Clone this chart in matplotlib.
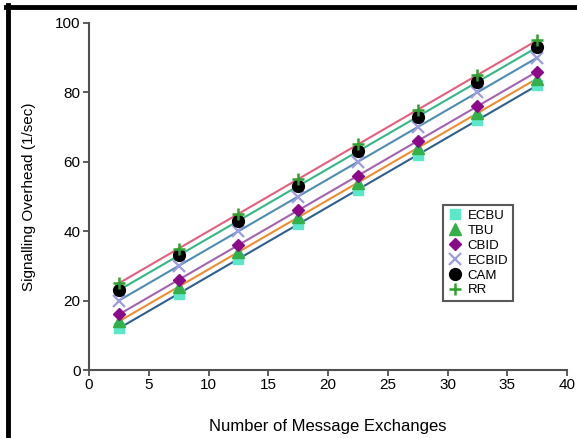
import numpy as np
import matplotlib
matplotlib.use("Agg")
import matplotlib.pyplot as plt
from matplotlib.lines import Line2D

plt.rcParams['font.family'] = ['Liberation Sans', 'DejaVu Sans']

x = [2.5, 7.5, 12.5, 17.5, 22.5, 27.5, 32.5, 37.5]
ecbu = [12, 22, 32, 42, 52, 62, 72, 82]
tbu = [14, 24, 34, 44, 54, 64, 74, 84]
cbid = [16, 26, 36, 46, 56, 66, 76, 86]
ecbid = [20, 30, 40, 50, 60, 70, 80, 90]
cam = [23, 33, 43, 53, 63, 73, 83, 93]
rr = [25, 35, 45, 55, 65, 75, 85, 95]

names = ["ECBU", "TBU", "CBID", "ECBID", "CAM", "RR"]
series = [ecbu, tbu, cbid, ecbid, cam, rr]
line_colors = ["#2f5f8f", "#f08c30", "#a463b0", "#4e8db3", "#34b884", "#e4607e"]
styles = [
    dict(marker="s", color="#5ce8c8", ms=7, mec="#5ce8c8"),
    dict(marker="^", color="#33b04a", ms=8, mec="#33b04a"),
    dict(marker="D", color="#8a0a8a", ms=6, mec="#8a0a8a"),
    dict(marker="x", color="#9c9ce0", ms=8, mew=1.6),
    dict(marker="o", color="#000000", ms=8.5),
    dict(marker="+", color="#2fa02f", ms=9, mew=1.8),
]

fig = plt.figure(figsize=(5.77, 4.38), dpi=100)
ax = fig.add_axes([89/577, 68/438, 478/577, 347/438])

xa = np.array(x)
for vals, lc in zip(series, line_colors):
    k, b = np.polyfit(xa, np.array(vals), 1)
    ax.plot([xa.min(), xa.max()], [k*xa.min()+b, k*xa.max()+b], color=lc, lw=1.5, zorder=2)

handles = []
for name, vals, st in zip(names, series, styles):
    h, = ax.plot(x, vals, linestyle="none", label=name, zorder=3, **st)
    handles.append(h)

ax.set_xlim(0, 40)
ax.set_ylim(0, 100)
ax.set_xticks(range(0, 41, 5))
ax.set_yticks(range(0, 101, 20))
for s in ["top", "right"]:
    ax.spines[s].set_visible(False)
for s in ["left", "bottom"]:
    ax.spines[s].set_color("#505050")
    ax.spines[s].set_linewidth(1.5)
ax.tick_params(direction="out", length=4, width=1.3, color="#505050", labelsize=11, pad=2)
ax.set_xlabel("Number of Message Exchanges", fontsize=12, labelpad=19)
ax.set_ylabel("Signalling Overhead (1/sec)", fontsize=11, labelpad=14)

leg = ax.legend(handles=handles, loc="upper left", bbox_to_anchor=(0.741, 0.475),
                fontsize=9.5, frameon=True, fancybox=False, borderpad=0.35,
                handlelength=1.1, handletextpad=0.4, labelspacing=0.2, borderaxespad=0)
leg.get_frame().set_edgecolor("#303030")
leg.get_frame().set_linewidth(1.5)

fig.add_artist(Line2D([7.5/577, 7.5/577], [0, 1 - 5/438], color="black", lw=3.5, transform=fig.transFigure))
fig.add_artist(Line2D([6/577, 1], [1 - 6.5/438, 1 - 6.5/438], color="black", lw=3.5, transform=fig.transFigure))

fig.savefig("out.png", dpi=100)
